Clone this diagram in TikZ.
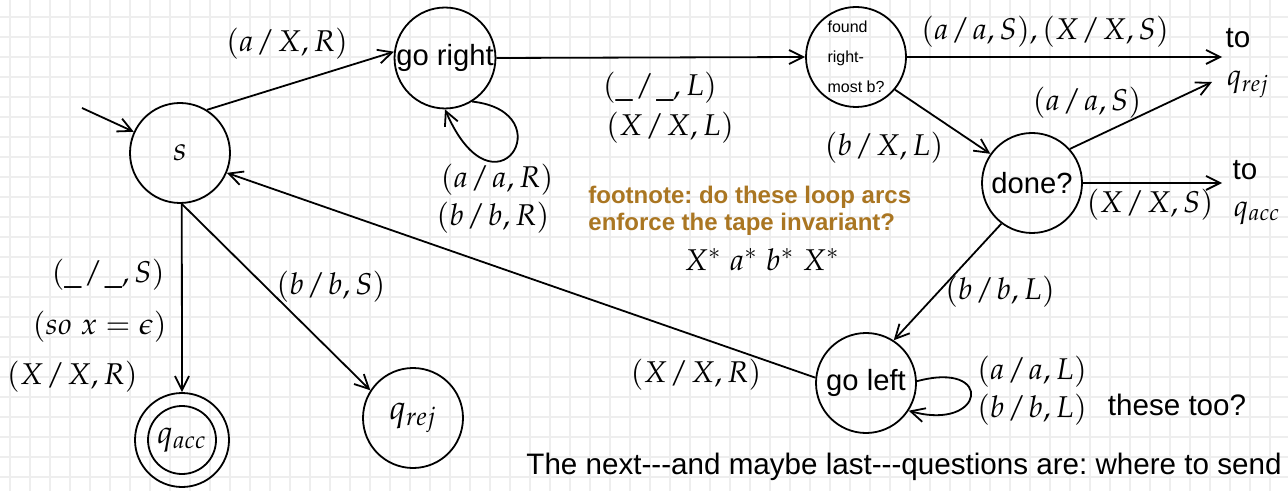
\documentclass[tikz,border=0pt]{standalone}
\usepackage{mathpazo}
\usepackage{fontspec}
\setmainfont{Liberation Sans}
\usetikzlibrary{arrows.meta}
\definecolor{notecol}{RGB}{170,118,34}
\definecolor{gridcol}{RGB}{238,238,238}
\newcommand{\sepsl}{\mkern1.5mu/\mkern1.5mu}
\frenchspacing
\tikzset{
  st/.style={draw, circle, line width=0.9pt, minimum size=50pt, inner sep=0pt, font=\fontsize{14.6}{16}\selectfont},
  arr/.style={line width=0.9pt, -{Straight Barb[length=7pt,width=7pt,line width=0.9pt]}},
  lab/.style={inner sep=0pt, font=\fontsize{15}{17}\selectfont},
  sans/.style={inner sep=0pt, font=\fontsize{14.8}{16}\selectfont},
  note/.style={inner sep=0pt, align=left, text=notecol, font=\fontsize{12}{13.5}\selectfont\bfseries}
}
\begin{document}
\begin{tikzpicture}[x=0.5pt,y=-0.5pt]
\useasboundingbox (0,0) rectangle (1288,491);
% grid
\foreach \gx in {10,30,...,1290} \draw[gridcol, line width=0.75pt] (\gx,0) -- (\gx,491);
\foreach \gy in {17,37,...,491} \draw[gridcol, line width=0.75pt] (0,\gy) -- (1288,\gy);

% states
\node[st, font=\fontsize{16.5}{18}\selectfont] (s) at (180,153) {$s$};
\node[st] (goright) at (445,58) {go right};
\node[st, font=\fontsize{8}{15}\selectfont, align=left] (found) at (856,57) {found\\right-\\most b?};
\node[st] (done) at (1032,183) {done?};
\node[st] (goleft) at (866,383) {go left};
\node[st, minimum size=47pt, font=\fontsize{16}{18}\selectfont] (qacc) at (182,440) {$q_{acc}$};
\draw[line width=0.9pt] (qacc.center) circle[radius=17pt];
\node[st, font=\fontsize{17}{18}\selectfont] (qrej) at (413,418) {$q_{rej}$};

% outside targets
\coordinate (init) at (82,108);
\coordinate (torejA) at (1222,57);
\coordinate (torejB) at (1212,82);
\coordinate (toacc) at (1222,183);
\node[sans] (toA) at (1238,38) {to};
\node[lab] (qrejA) at (1248,84) {$q_{rej}$};
\node[sans] (toB) at (1245,170) {to};
\node[lab] (qaccB) at (1257,213) {$q_{acc}$};

% edges
\draw[arr] (init) -- (s);
\draw[arr] (s.58) -- (goright.173);
\draw[arr] (goright.east) -- (found.west);
\draw[arr] (goright.-58) .. controls (565,112) and (495,225) .. (goright.-90);
\draw[arr] (found.east) -- (torejA);
\draw[arr] (found.-40) -- (done.145);
\draw[arr] (done.42) -- (torejB);
\draw[arr] (done.east) -- (toacc);
\draw[arr] (done.-127) -- (goleft.57);
\draw[arr] (goleft.174) -- (s.-23);
\draw[arr] (goleft.2) .. controls (995,360) and (985,432) .. (goleft.-33);
\draw[arr] (s.-88) -- (qacc.north);
\draw[arr] (s.-88) -- (qrej.147);

% labels
\node[lab] (l1) at (287,44) {$(a\sepsl X, R)$};
\node[lab] (l2) at (660,88) {$(\_\sepsl\_, L)$};
\node[lab] (l3) at (670,128) {$(X\sepsl X, L)$};
\node[lab] (l4) at (497,180) {$(a\sepsl a, R)$};
\node[lab] (l5) at (493,218) {$(b\sepsl b, R)$};
\node[lab] (l6) at (1045,32) {$(a\sepsl a, S), (X\sepsl X, S)$};
\node[lab] (l7) at (884,148) {$(b\sepsl X, L)$};
\node[lab] (l8) at (1087,103) {$(a\sepsl a, S)$};
\node[lab] (l9) at (1150,205) {$(X\sepsl X, S)$};
\node[lab] (l10) at (1000,292) {$(b\sepsl b, L)$};
\node[lab] (l11) at (696,375) {$(X\sepsl X, R)$};
\node[lab] (l12) at (1032,372) {$(a\sepsl a, L)$};
\node[lab] (l13) at (1032,410) {$(b\sepsl b, L)$};
\node[lab, anchor=east] (l14) at (165,275) {$(\_\sepsl\_, S)$};
\node[lab, anchor=east] (l15) at (167,327) {$(so\ x = \epsilon)$};
\node[lab, anchor=east] (l16) at (138,377) {$(X\sepsl X, R)$};
\node[lab] (l17) at (331,287) {$(b\sepsl b, S)$};
\node[lab] (inv) at (762,260) {$X^*\;a^*\;b^*\;X^*$};
\node[note, anchor=north west] (fn) at (588,186) {footnote: do these loop arcs\\enforce the tape invariant?};
\node[sans] (too) at (1177,405) {these too?};
\node[sans, anchor=east] (bottom) at (1282,467) {The next-{}-{}-and maybe last-{}-{}-questions are: where to send};
\end{tikzpicture}
\end{document}
